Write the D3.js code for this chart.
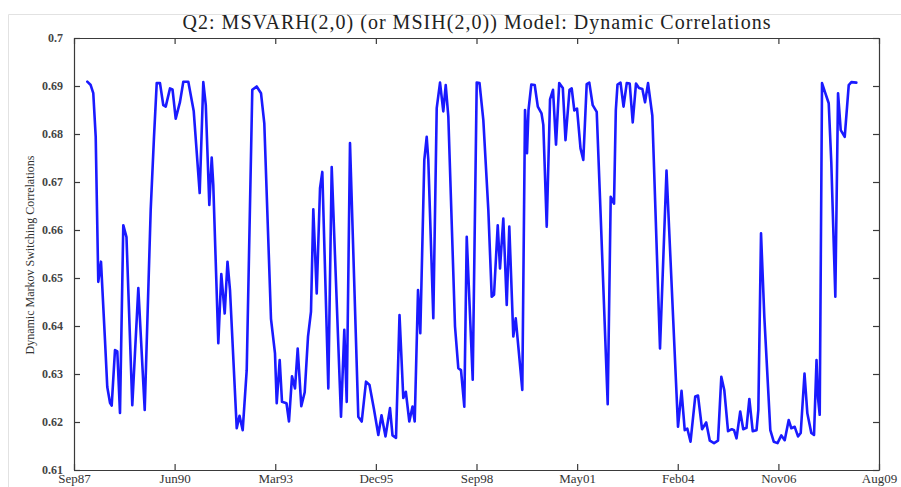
<!DOCTYPE html>
<html>
<head>
<meta charset="utf-8">
<script src="https://cdn.jsdelivr.net/npm/d3@7"></script>
<style>
  html, body { margin: 0; padding: 0; background: #fff; }
  svg { display: block; }
</style>
</head>
<body>
<div id="chart"></div>
<script>
// Observation times (decimal years) and the dynamic Markov-switching correlation at each.
const obsTime = [
  1988.029, 1988.121, 1988.192, 1988.258, 1988.328, 1988.402, 1988.511, 1988.573, 1988.647, 1988.693,
  1988.783, 1988.846, 1988.919, 1989.009, 1989.096, 1989.254, 1989.418, 1989.592, 1989.755, 1989.845,
  1989.919, 1990.008, 1990.098, 1990.164, 1990.281, 1990.349, 1990.436, 1990.553, 1990.643, 1990.779,
  1990.926, 1991.089, 1991.187, 1991.255, 1991.351, 1991.416, 1991.459, 1991.596, 1991.677, 1991.770,
  1991.846, 1991.914, 1992.097, 1992.173, 1992.260, 1992.369, 1992.521, 1992.641, 1992.758, 1992.848,
  1993.030, 1993.139, 1993.186, 1993.267, 1993.330, 1993.452, 1993.520, 1993.602, 1993.684, 1993.757,
  1993.855, 1993.948, 1994.038, 1994.119, 1994.182, 1994.275, 1994.365, 1994.427, 1994.591, 1994.683,
  1994.936, 1995.026, 1995.092, 1995.181, 1995.407, 1995.500, 1995.617, 1995.712, 1995.835, 1995.952,
  1996.039, 1996.148, 1996.270, 1996.338, 1996.434, 1996.529, 1996.632, 1996.701, 1996.796, 1996.883,
  1996.943, 1997.033, 1997.095, 1997.204, 1997.269, 1997.313, 1997.449, 1997.542, 1997.632, 1997.721,
  1997.787, 1997.858, 1998.040, 1998.130, 1998.203, 1998.293, 1998.359, 1998.522, 1998.631, 1998.707,
  1998.811, 1998.947, 1999.039, 1999.102, 1999.203, 1999.265, 1999.355, 1999.448, 1999.518, 1999.627,
  1999.693, 1999.872, 1999.946, 2000.000, 2000.041, 2000.117, 2000.210, 2000.294, 2000.395, 2000.444,
  2000.537, 2000.627, 2000.708, 2000.790, 2000.877, 2000.975, 2001.048, 2001.157, 2001.217, 2001.288,
  2001.362, 2001.457, 2001.533, 2001.625, 2001.696, 2001.789, 2001.898, 2002.007, 2002.197, 2002.279,
  2002.369, 2002.418, 2002.464, 2002.546, 2002.628, 2002.715, 2002.796, 2002.878, 2002.967, 2003.049,
  2003.140, 2003.213, 2003.295, 2003.412, 2003.621, 2003.798, 2004.111, 2004.207, 2004.294, 2004.365,
  2004.452, 2004.580, 2004.656, 2004.765, 2004.879, 2004.977, 2005.092, 2005.200, 2005.290, 2005.372,
  2005.473, 2005.576, 2005.636, 2005.704, 2005.805, 2005.887, 2005.976, 2006.053, 2006.145, 2006.249,
  2006.298, 2006.371, 2006.461, 2006.624, 2006.717, 2006.820, 2006.924, 2007.016, 2007.125, 2007.196,
  2007.288, 2007.378, 2007.452, 2007.555, 2007.632, 2007.740, 2007.814, 2007.882, 2007.923, 2007.969,
  2008.032, 2008.122, 2008.214, 2008.285, 2008.394, 2008.468, 2008.541, 2008.650, 2008.759, 2008.830,
  2008.966
];
const corr = [
  0.6909, 0.6902, 0.6885, 0.6794, 0.6492, 0.6534, 0.6370, 0.6273, 0.6240, 0.6234,
  0.6350, 0.6347, 0.6219, 0.6610, 0.6585, 0.6235, 0.6479, 0.6225, 0.6642, 0.6794,
  0.6906, 0.6906, 0.6860, 0.6857, 0.6895, 0.6893, 0.6832, 0.6867, 0.6909, 0.6909,
  0.6848, 0.6677, 0.6908, 0.6860, 0.6652, 0.6751, 0.6694, 0.6364, 0.6508, 0.6426,
  0.6534, 0.6475, 0.6187, 0.6213, 0.6183, 0.6308, 0.6892, 0.6899, 0.6885, 0.6822,
  0.6415, 0.6343, 0.6239, 0.6329, 0.6242, 0.6239, 0.6201, 0.6295, 0.6270, 0.6353,
  0.6233, 0.6262, 0.6378, 0.6430, 0.6643, 0.6468, 0.6687, 0.6721, 0.6270, 0.6731,
  0.6211, 0.6392, 0.6242, 0.6781, 0.6211, 0.6201, 0.6284, 0.6277, 0.6226, 0.6173,
  0.6214, 0.6170, 0.6229, 0.6172, 0.6167, 0.6423, 0.6250, 0.6263, 0.6201, 0.6232,
  0.6201, 0.6475, 0.6385, 0.6746, 0.6794, 0.6746, 0.6416, 0.6854, 0.6907, 0.6847,
  0.6902, 0.6836, 0.6399, 0.6312, 0.6308, 0.6232, 0.6586, 0.6288, 0.6907, 0.6906,
  0.6829, 0.6642, 0.6461, 0.6465, 0.6610, 0.6520, 0.6624, 0.6444, 0.6607, 0.6378,
  0.6416, 0.6267, 0.6850, 0.6760, 0.6850, 0.6903, 0.6902, 0.6857, 0.6843, 0.6819,
  0.6607, 0.6872, 0.6892, 0.6778, 0.6906, 0.6896, 0.6787, 0.6892, 0.6895, 0.6849,
  0.6853, 0.6770, 0.6746, 0.6904, 0.6907, 0.6860, 0.6846, 0.6627, 0.6237, 0.6669,
  0.6655, 0.6850, 0.6903, 0.6907, 0.6857, 0.6906, 0.6905, 0.6824, 0.6905, 0.6896,
  0.6894, 0.6866, 0.6906, 0.6838, 0.6353, 0.6724, 0.6190, 0.6265, 0.6183, 0.6186,
  0.6159, 0.6253, 0.6255, 0.6185, 0.6199, 0.6161, 0.6156, 0.6161, 0.6294, 0.6266,
  0.6181, 0.6185, 0.6183, 0.6166, 0.6222, 0.6185, 0.6188, 0.6248, 0.6181, 0.6183,
  0.6225, 0.6593, 0.6419, 0.6183, 0.6159, 0.6156, 0.6172, 0.6162, 0.6204, 0.6187,
  0.6190, 0.6170, 0.6177, 0.6301, 0.6218, 0.6177, 0.6173, 0.6329, 0.6250, 0.6215,
  0.6906, 0.6885, 0.6864, 0.6739, 0.6461, 0.6885, 0.6808, 0.6794, 0.6902, 0.6908,
  0.6907
];

// Date axis: evenly spaced ticks between Sep 1987 and Aug 2009.
const xTickTimes = [1987.667, 1990.406, 1993.146, 1995.885, 1998.625, 2001.365, 2004.104, 2006.844, 2009.583];
const xTickLabels = ["Sep87", "Jun90", "Mar93", "Dec95", "Sep98", "May01", "Feb04", "Nov06", "Aug09"];
const yTicks = [0.61, 0.62, 0.63, 0.64, 0.65, 0.66, 0.67, 0.68, 0.69, 0.7];

const titleText = "Q2: MSVARH(2,0) (or MSIH(2,0)) Model: Dynamic Correlations";
const yTitleText = "Dynamic Markov Switching Correlations";

const width = 901, height = 487;
const margin = { top: 38, right: 22, bottom: 17, left: 74 };
const plotW = width - margin.left - margin.right;
const plotH = height - margin.top - margin.bottom;

const serif = "'Liberation Serif', 'Times New Roman', serif";

const svg = d3.select("#chart").append("svg")
  .attr("width", width)
  .attr("height", height);

// faint frame around the figure
svg.append("path")
  .attr("d", `M8.5,${height} V14.5 H${width}`)
  .attr("fill", "none")
  .attr("stroke", "#e2e2e2")
  .attr("stroke-width", 1);

const x = d3.scaleLinear()
  .domain([xTickTimes[0], xTickTimes[xTickTimes.length - 1]])
  .range([margin.left, margin.left + plotW]);

const y = d3.scaleLinear()
  .domain([0.61, 0.7])
  .range([margin.top + plotH, margin.top]);

const axisColor = "#3a3a3a";
const tickLen = 6;

// bottom axis: labels below, ticks pointing into the plot
const xAxisBottom = d3.axisBottom(x)
  .tickValues(xTickTimes)
  .tickFormat((d, i) => xTickLabels[i])
  .tickSizeInner(-tickLen)
  .tickSizeOuter(0)
  .tickPadding(4);
const gxb = svg.append("g")
  .attr("transform", `translate(0,${margin.top + plotH})`)
  .call(xAxisBottom);

const xAxisTop = d3.axisTop(x)
  .tickValues(xTickTimes)
  .tickFormat("")
  .tickSizeInner(-tickLen)
  .tickSizeOuter(0);
const gxt = svg.append("g")
  .attr("transform", `translate(0,${margin.top})`)
  .call(xAxisTop);

const yAxisLeft = d3.axisLeft(y)
  .tickValues(yTicks)
  .tickFormat(d => String(+d.toFixed(2)))
  .tickSizeInner(-tickLen)
  .tickSizeOuter(0)
  .tickPadding(11);
const gyl = svg.append("g")
  .attr("transform", `translate(${margin.left},0)`)
  .call(yAxisLeft);

const yAxisRight = d3.axisRight(y)
  .tickValues(yTicks)
  .tickFormat("")
  .tickSizeInner(-tickLen)
  .tickSizeOuter(0);
const gyr = svg.append("g")
  .attr("transform", `translate(${margin.left + plotW},0)`)
  .call(yAxisRight);

[gxb, gxt, gyl, gyr].forEach(g => {
  g.select(".domain").attr("stroke", axisColor).attr("stroke-width", 1.2);
  g.selectAll(".tick line").attr("stroke", axisColor).attr("stroke-width", 1.2);
});

gxb.selectAll(".tick text")
  .attr("font-family", serif)
  .attr("font-size", 13)
  .attr("fill", "#333");

gyl.selectAll(".tick text")
  .attr("font-family", serif)
  .attr("font-weight", "bold")
  .attr("font-size", 12)
  .attr("fill", "#444");

// correlation series
const line = d3.line()
  .x((d, i) => x(obsTime[i]))
  .y(d => y(d));

svg.append("path")
  .datum(corr)
  .attr("fill", "none")
  .attr("stroke", "#1a1aff")
  .attr("stroke-width", 2.6)
  .attr("stroke-linejoin", "round")
  .attr("stroke-linecap", "round")
  .attr("d", line);

// title
svg.append("text")
  .attr("x", margin.left + plotW / 2)
  .attr("y", 29)
  .attr("text-anchor", "middle")
  .attr("font-family", serif)
  .attr("font-size", 20)
  .attr("textLength", 588)
  .attr("lengthAdjust", "spacing")
  .attr("fill", "#222")
  .text(titleText);

// y-axis title
svg.append("text")
  .attr("transform", "translate(34,255) rotate(-90)")
  .attr("text-anchor", "middle")
  .attr("font-family", serif)
  .attr("font-size", 12)
  .attr("fill", "#333")
  .text(yTitleText);
</script>
</body>
</html>
